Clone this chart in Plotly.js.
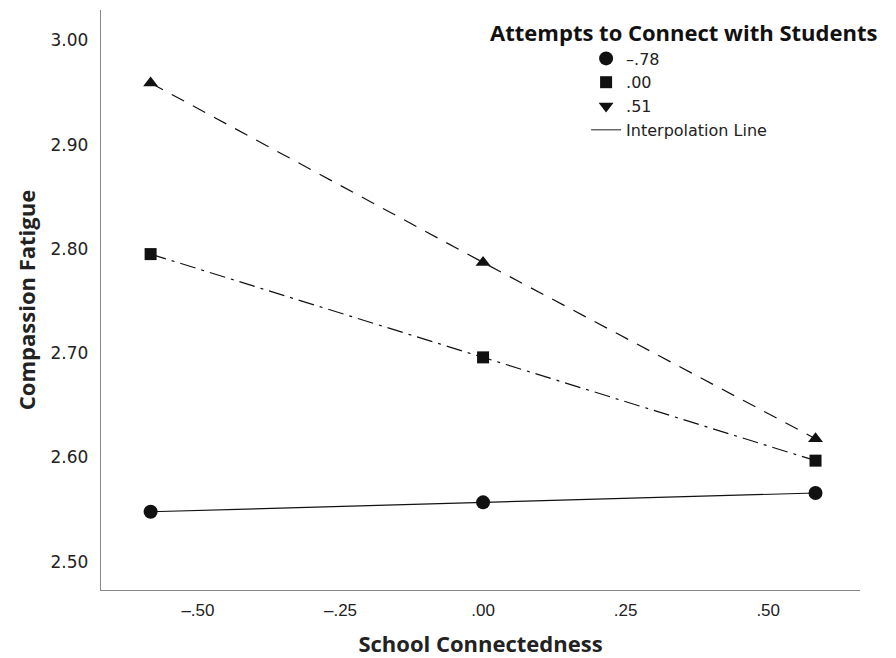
<!DOCTYPE html>
<html>
<head>
<meta charset="utf-8">
<script src="https://cdn.plot.ly/plotly-3.0.1.min.js"></script>
<style>html,body{margin:0;padding:0;background:#fff;}#chart{width:896px;height:658px;}</style>
</head>
<body>
<div id="chart"></div>
<script>
// School Connectedness levels (x)
const xLevels = [-0.583, 0.0, 0.583];
// Compassion Fatigue for each level of Attempts to Connect with Students
const groupLabels = ["\u2013.78", ".00", ".51"];
const yLow = [2.548, 2.557, 2.566];   // -.78
const yMid = [2.795, 2.696, 2.597];   // .00
const yHigh = [2.959, 2.787, 2.618];  // .51
const xTickVals = [-0.5, -0.25, 0, 0.25, 0.5];
const xTickText = ["\u2013.50", "\u2013.25", ".00", ".25", ".50"];
const yTickVals = [2.5, 2.6, 2.7, 2.8, 2.9, 3.0];
const yTickText = ["2.50", "2.60", "2.70", "2.80", "2.90", "3.00"];

const ink = "#111";
const lineW = 1.2;
const traces = [
  {x: xLevels, y: yLow, mode: "lines+markers", showlegend: false,
   line: {color: ink, width: lineW, dash: "solid"},
   marker: {symbol: "circle", size: 14, color: ink}},
  {x: xLevels, y: yMid, mode: "lines+markers", showlegend: false,
   line: {color: ink, width: lineW, dash: "16px,6px,3px,6px"},
   marker: {symbol: "square", size: 12, color: ink}},
  {x: xLevels, y: yHigh, mode: "lines+markers", showlegend: false,
   line: {color: ink, width: lineW, dash: "14px,10px"},
   marker: {symbol: "triangle-up", size: 13, color: ink}},
  // legend entries
  {x: [null], y: [null], mode: "markers", name: groupLabels[0],
   marker: {symbol: "circle", size: 14, color: ink}},
  {x: [null], y: [null], mode: "markers", name: groupLabels[1],
   marker: {symbol: "square", size: 12, color: ink}},
  {x: [null], y: [null], mode: "markers", name: groupLabels[2],
   marker: {symbol: "triangle-down", size: 13, color: ink}},
  {x: [null], y: [null], mode: "lines", name: "Interpolation Line",
   line: {color: "#444", width: 1.2}}
];

const layout = {
  width: 896, height: 658,
  margin: {l: 101, r: 36, t: 10, b: 68},
  paper_bgcolor: "#fff", plot_bgcolor: "#fff",
  font: {family: "DejaVu Sans, sans-serif", color: "#222", size: 16},
  xaxis: {
    range: [-0.67, 0.661], tickvals: xTickVals, ticktext: xTickText,
    showgrid: false, zeroline: false, showline: true, linecolor: "#888", linewidth: 1.2,
    ticks: "", ticklen: 0, ticklabelstandoff: 4,
    tickfont: {size: 17, family: "Liberation Sans Narrow, Liberation Sans, sans-serif", color: "#222"},
    title: {text: "School Connectedness", standoff: 25,
            font: {family: "Open Sans, sans-serif", size: 22, color: "#222", weight: "bold"}}
  },
  yaxis: {
    range: [2.473, 3.029], tickvals: yTickVals, ticktext: yTickText,
    showgrid: false, zeroline: false, showline: true, linecolor: "#888", linewidth: 1.2,
    ticks: "", ticklen: 0, ticklabelstandoff: 8, tickfont: {size: 17, color: "#222"},
    title: {text: "Compassion Fatigue", standoff: 8,
            font: {family: "Open Sans, sans-serif", size: 22, color: "#222", weight: "bold"}}
  },
  showlegend: true,
  legend: {
    x: 0.51, xanchor: "left", y: 0.995, yanchor: "top",
    bgcolor: "rgba(0,0,0,0)", borderwidth: 0,
    indentation: 98,
    font: {family: "DejaVu Sans, sans-serif", size: 16, color: "#222"},
    title: {text: "Attempts to Connect with Students", side: "top",
            font: {family: "Open Sans, sans-serif", size: 22, color: "#111", weight: "bold"}},
    tracegroupgap: 0
  }
};

Plotly.newPlot("chart", traces, layout, {displayModeBar: false, staticPlot: true});
</script>
</body>
</html>
